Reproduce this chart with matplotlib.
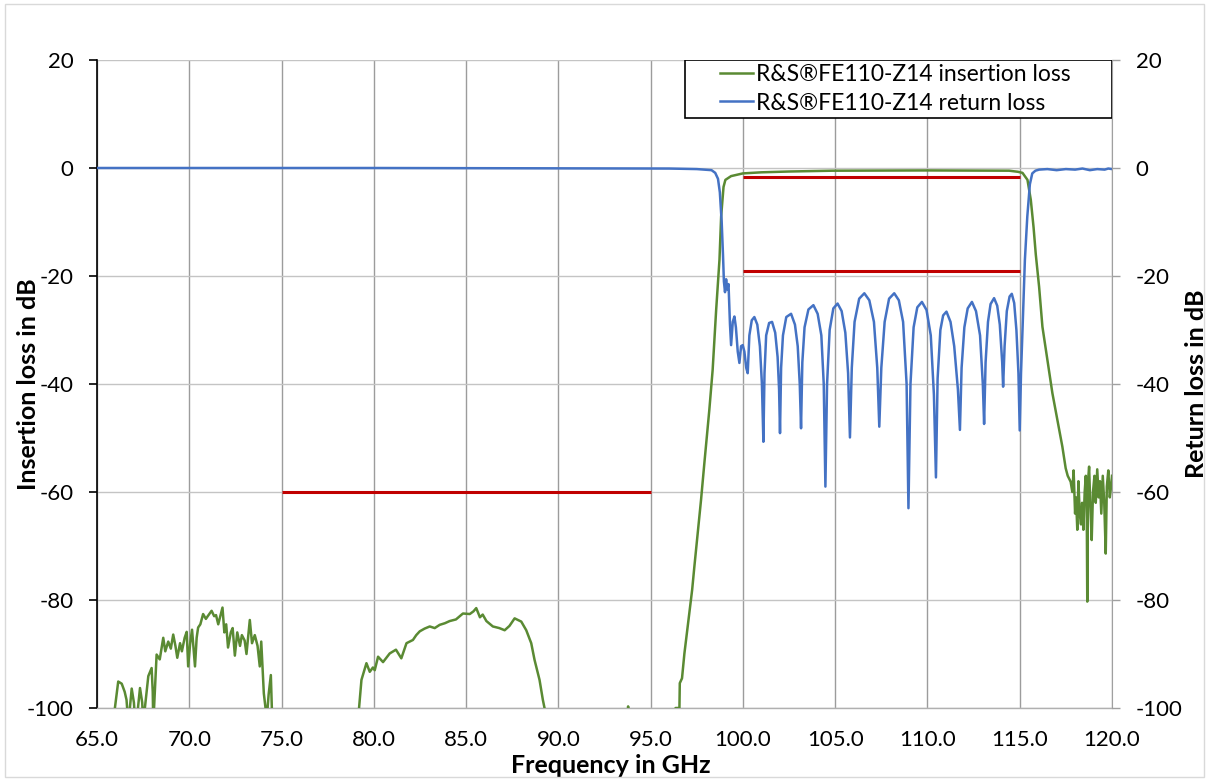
import numpy as np
import matplotlib
matplotlib.use("Agg")
import matplotlib.pyplot as plt
from matplotlib.patches import Rectangle
from matplotlib.lines import Line2D

plt.rcParams['font.family'] = ['Lato', 'DejaVu Sans']
plt.rcParams['axes.unicode_minus'] = False

# insertion loss (S21) of the filter, dB
il_freq = [
    65.0, 65.95, 65.97, 66.15, 66.34, 66.5, 66.6, 66.7, 66.88, 67.0, 67.1, 67.33, 67.45, 67.5,
    67.78, 67.96, 68.02, 68.05, 68.23, 68.4, 68.59, 68.7, 68.86, 69.0, 69.13, 69.25, 69.35,
    69.5, 69.6, 69.75, 69.86, 69.94, 70.05, 70.15, 70.31, 70.4, 70.48, 70.6, 70.75, 70.9,
    71.0, 71.21, 71.35, 71.45, 71.57, 71.68, 71.8, 71.9, 72.0, 72.1, 72.25, 72.35, 72.47,
    72.6, 72.75, 72.85, 73.0, 73.1, 73.28, 73.4, 73.55, 73.7, 73.82, 73.9, 74.04, 74.2,
    74.3, 74.42, 74.51, 74.6,
    79.1, 79.2, 79.33, 79.6, 79.78, 79.95, 80.05, 80.23, 80.5, 80.86, 81.2, 81.49, 81.77,
    82.12, 82.3, 82.49, 82.75, 83.03, 83.3, 83.57, 83.85, 84.11, 84.45, 84.83, 85.2, 85.4,
    85.55, 85.75, 85.9, 86.1, 86.45, 86.8, 87.09, 87.35, 87.63, 87.99, 88.26, 88.53, 88.71,
    88.98, 89.16, 89.25, 89.35,
    93.72, 93.78, 93.84,
    96.3, 96.35, 96.56, 96.58, 96.7, 96.83, 97.01, 97.25, 97.37, 97.55, 97.73, 97.91, 98.18,
    98.36, 98.55, 98.73, 98.82, 98.95, 99.05, 99.36, 100.0, 101.0, 102.5, 104.86, 110.0,
    114.43, 114.9, 115.15, 115.42, 115.6, 115.75, 115.87, 116.05, 116.23, 116.5, 116.77,
    117.04, 117.31, 117.49, 117.6, 117.76, 117.85, 117.92, 118.0, 118.05, 118.12, 118.18,
    118.25, 118.32, 118.38, 118.45, 118.52, 118.58, 118.63, 118.66, 118.7, 118.76, 118.82,
    118.9, 118.97, 119.05, 119.12, 119.2, 119.28, 119.35, 119.42, 119.5, 119.58, 119.66,
    119.72, 119.8, 119.88, 119.95, 120.0,
]
il_db = [
    -110, -110, -100, -95.1, -95.5, -97, -98.5, -103, -96.4, -99, -104, -96.3, -99, -103,
    -94.1, -92.6, -97, -103, -90.1, -91, -87.0, -89.5, -87.7, -89, -86.4, -88.5, -90.7,
    -88, -89.5, -87, -85.9, -92.3, -88, -85.5, -92.3, -87, -85.1, -84.5, -82.6, -83.5,
    -83.0, -82.0, -83, -82.8, -84.5, -83, -81.4, -86, -84.5, -88.8, -86, -85.2, -90.3,
    -86, -88.5, -86.5, -87.5, -90, -83.7, -88, -86.5, -88.5, -92.3, -87.7, -97.3, -102,
    -97.5, -93.9, -104, -110,
    -110, -100, -94.8, -91.7, -93.3, -92.5, -93, -90.5, -91.5, -89.9, -89.2, -90.8, -88.0,
    -87.4, -86.5, -85.8, -85.3, -84.9, -85.2, -84.6, -84.3, -83.9, -83.6, -82.5, -82.6, -82.1,
    -81.5, -83.2, -82.7, -83.9, -84.9, -85.2, -85.6, -84.8, -83.4, -84.0, -85.6, -88.0, -91.1,
    -94.8, -98.5, -100, -110,
    -110, -99.7, -110,
    -110, -100, -100, -95.4, -94.5, -89.9, -84.9, -78.1, -73.8, -67.7, -61.5, -54.7, -44.8,
    -37.4, -26.3, -17, -9, -3.5, -2.2, -1.5, -1.0, -0.8, -0.65, -0.5, -0.45,
    -0.5, -0.7, -0.9, -2.2, -5.9, -11, -16, -22, -29.4, -35.6, -41.7,
    -46.7, -51.6, -55.6, -57, -58.1, -60, -56, -64, -61, -67, -58,
    -64, -66, -62, -67, -60, -57, -62, -80.3, -58, -55.3, -62,
    -68.9, -60, -57, -62, -55.8, -61, -58, -64, -57, -62, -71.4,
    -59, -56, -61, -59, -57,
]

# return loss (S11) of the filter, dB
rl_freq = [
    65.0, 80.0, 96.0, 97.5, 98.3, 98.5, 98.65, 98.75, 98.85, 98.92, 98.97, 99.03, 99.09,
    99.15, 99.22, 99.3, 99.36, 99.45, 99.54, 99.62, 99.72, 99.81, 99.9, 99.99, 100.08,
    100.18, 100.26, 100.35, 100.48, 100.62, 100.78, 100.92, 101.03, 101.11, 101.17, 101.26,
    101.42, 101.58, 101.75, 101.88, 101.96, 102.01, 102.07, 102.17, 102.35, 102.61, 102.82,
    102.97, 103.08, 103.15, 103.22, 103.34, 103.55, 103.82, 104.05, 104.25, 104.38, 104.47,
    104.56, 104.7, 104.9, 105.13, 105.35, 105.55, 105.7, 105.8, 105.9, 106.05, 106.3,
    106.58, 106.85, 107.1, 107.28, 107.39, 107.5, 107.68, 107.92, 108.2, 108.45, 108.68,
    108.87, 108.97, 109.08, 109.25, 109.45, 109.7, 109.95, 110.18, 110.35, 110.46, 110.55,
    110.7, 110.85, 111.03, 111.25, 111.45, 111.65, 111.76, 111.85, 112.0, 112.18, 112.41,
    112.63, 112.85, 113.0, 113.07, 113.15, 113.28, 113.42, 113.61, 113.78, 113.92, 114.05,
    114.1, 114.18, 114.3, 114.45, 114.57, 114.7, 114.82, 114.93, 115.0, 115.07, 115.15,
    115.28, 115.41, 115.55, 115.68, 115.85, 116.05, 116.5, 117.0, 117.5, 118.0, 118.4,
    118.8, 119.2, 119.6, 119.8, 120.0,
]
rl_db = [
    0.0, 0.0, -0.1, -0.2, -0.4, -0.9, -2.0, -4.5, -10, -16, -21, -23.0, -20.6,
    -22.5, -21.5, -29, -32.8, -28.5, -27.5, -29.5, -34, -36.1, -33, -32.8, -34,
    -37, -38.0, -31, -28.2, -27.6, -29, -33, -40, -50.7, -38, -31,
    -28.7, -28.5, -30.5, -35, -41, -49.1, -37, -31, -27.6, -27.0, -29,
    -33, -40, -48.2, -36, -29.5, -26.2, -25.4, -27, -31, -40, -59.0,
    -40, -30, -26, -25.1, -26.5, -30.5, -38, -49.9, -37, -28.5, -24.2,
    -23.2, -24.5, -28.5, -37, -47.9, -37, -28.5, -24.2, -23.2, -24.5, -28.5,
    -40, -63.0, -40, -29.5, -25.8, -24.8, -26.3, -31, -42, -57.3, -39,
    -30, -27.3, -26.6, -28.5, -33, -41, -48.5, -37, -29.5, -26, -24.8,
    -26.5, -31, -40, -47.4, -36, -28.5, -25.2, -24.1, -25.5, -29, -36,
    -40.5, -33, -26.5, -23.8, -23.3, -25, -30, -38, -48.6, -38, -30,
    -17, -9, -3, -1, -0.5, -0.3, -0.2, -0.4, -0.2, -0.3, -0.1,
    -0.4, -0.2, -0.3, -0.1, -0.2,
]

# specification limits: (start GHz, stop GHz, level dB)
spec_start = [75.0, 100.0, 100.0]
spec_stop = [95.0, 115.0, 115.0]
spec_level = [-60.0, -1.7, -19.0]

x_ticks = np.arange(65, 120.1, 5)
y_ticks = np.arange(-100, 20.1, 20)

green = '#5a8a33'
blue = '#4472c4'
red = '#c00000'
tick_fs = 16
label_fs = 18

fig = plt.figure(figsize=(12.09, 7.81), dpi=100)
fig.patches.append(Rectangle((5 / 1209, 4 / 781), 1199 / 1209, 773 / 781,
                             transform=fig.transFigure, fill=False,
                             edgecolor='#d9d9d9', linewidth=1.0))
ax = fig.add_axes([97 / 1209, 73 / 781, 1015 / 1209, 648 / 781])

ax.plot(il_freq, il_db, color=green, lw=1.8, zorder=3)
ax.plot(rl_freq, rl_db, color=blue, lw=1.8, zorder=4)
ax.hlines(spec_level, spec_start, spec_stop, color=red, lw=2.2, zorder=5)

ax.set_xlim(65, 120)
ax.set_ylim(-100, 20)
ax.set_xticks(x_ticks)
ax.set_xticklabels([f'{v:.1f}' for v in x_ticks])
ax.set_yticks(y_ticks)
ax.set_yticklabels([f'{v:.0f}' for v in y_ticks])

ax.grid(True, axis='x', color='#9c9c9c', lw=1.0, zorder=0)
ax.grid(True, axis='y', color='#c4c4c4', lw=1.0, zorder=0)
ax.set_axisbelow(True)

for side in ('top', 'right'):
    ax.spines[side].set_visible(False)
ax.spines['left'].set_color('black')
ax.spines['left'].set_linewidth(1.2)
ax.spines['bottom'].set_color('#b0b0b0')
ax.spines['bottom'].set_linewidth(1.0)

ax.tick_params(axis='y', direction='out', length=6, width=1.2, color='black',
               labelsize=tick_fs, pad=11)
ax.tick_params(axis='x', length=0, labelsize=tick_fs, pad=16)

ax.set_xlabel('Frequency in GHz', fontsize=label_fs, fontweight='bold')
ax.xaxis.set_label_coords(0.506, -0.071)
ax.set_ylabel('Insertion loss in dB', fontsize=label_fs, fontweight='bold')
ax.yaxis.set_label_coords(-0.056, 0.5)

ax2 = ax.twinx()
ax2.set_ylim(-100, 20)
ax2.set_yticks(y_ticks)
ax2.set_yticklabels([f'{v:.0f}' for v in y_ticks])
for side in ('top', 'left', 'bottom'):
    ax2.spines[side].set_visible(False)
ax2.spines['right'].set_color('#a0a0a0')
ax2.tick_params(axis='y', direction='out', length=6, width=1.0, color='#a0a0a0',
                labelsize=tick_fs, pad=11)
ax2.set_ylabel('Return loss in dB', fontsize=label_fs, fontweight='bold', labelpad=2)

# legend box in the upper right corner
box = Rectangle((0.579, 0.911), 0.421, 0.089, transform=ax.transAxes,
                facecolor='white', edgecolor='black', lw=1.2, zorder=6)
ax2.add_patch(box)
handles = [Line2D([], [], color=green, lw=1.8),
           Line2D([], [], color=blue, lw=1.8)]
labels = ['R&S®FE110-Z14 insertion loss', 'R&S®FE110-Z14 return loss']
leg = ax2.legend(handles, labels, loc='center left',
                 bbox_to_anchor=(0.614, 0.9555), bbox_transform=ax.transAxes,
                 frameon=False, fontsize=16.5, handlelength=1.45, handletextpad=0.1,
                 labelspacing=0.32, borderpad=0, borderaxespad=0)
leg.set_zorder(7)

fig.savefig('out.png', dpi=100)
